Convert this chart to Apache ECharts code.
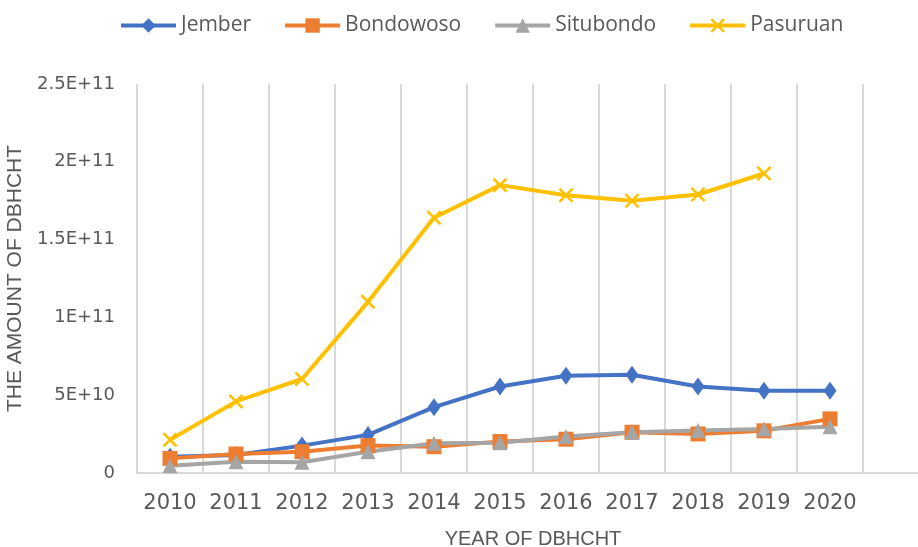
<!DOCTYPE html>
<html>
<head>
<meta charset="utf-8">
<script src="https://cdn.jsdelivr.net/npm/echarts@6/dist/echarts.min.js"></script>
<style>
html,body{margin:0;padding:0;background:#fff;}
#chart{width:918px;height:547px;}
</style>
</head>
<body>
<div id="chart"></div>
<script>
const categories = ['2010','2011','2012','2013','2014','2015','2016','2017','2018','2019','2020',''];
const jember    = [1.05e10, 1.16e10, 1.76e10, 2.45e10, 4.23e10, 5.56e10, 6.25e10, 6.31e10, 5.56e10, 5.28e10, 5.28e10];
const bondowoso = [0.94e10, 1.22e10, 1.37e10, 1.76e10, 1.69e10, 2.02e10, 2.17e10, 2.62e10, 2.51e10, 2.71e10, 3.48e10];
const situbondo = [0.47e10, 0.73e10, 0.69e10, 1.37e10, 1.91e10, 1.95e10, 2.34e10, 2.62e10, 2.73e10, 2.82e10, 2.98e10];
const pasuruan  = [2.13e10, 4.60e10, 6.04e10, 11.0e10, 16.4e10, 18.5e10, 17.85e10, 17.5e10, 17.9e10, 19.25e10];
const yTickLabels = ['0','5E+10','1E+11','1.5E+11','2E+11','2.5E+11'];
const yStep = 5e10;

const xPath = 'path://M0,1.2 L1.2,0 L5,3.8 L8.8,0 L10,1.2 L6.2,5 L10,8.8 L8.8,10 L5,6.2 L1.2,10 L0,8.8 L3.8,5 Z';

const chart = echarts.init(document.getElementById('chart'));
const txt = '#595959';
function mk(name, data, color, symbol, size) {
  return {
    name: name, type: 'line', data: data,
    symbol: symbol, symbolSize: size, showSymbol: true,
    lineStyle: {color: color, width: 4},
    itemStyle: {color: color},
    emphasis: {disabled: true},
    z: 3
  };
}
chart.setOption({
  animation: false,
  backgroundColor: '#fff',
  textStyle: {fontFamily: 'Liberation Sans', color: txt},
  legend: {
    left: 119, top: 15, padding: 0,
    itemWidth: 55, itemHeight: 18, itemGap: 32,
    lineStyle: {width: 4},
    textStyle: {fontSize: 21, color: txt, fontFamily: 'Open Sans'},
    data: ['Jember','Bondowoso','Situbondo','Pasuruan']
  },
  grid: {left: 137, right: -11, top: 84, bottom: 74, containLabel: false, outerBoundsMode: 'none'},
  xAxis: {
    type: 'category', data: categories, boundaryGap: true,
    name: 'YEAR OF DBHCHT', nameLocation: 'middle', nameGap: 56,
    nameTextStyle: {fontSize: 20, color: txt, fontFamily: 'Liberation Sans'},
    axisLine: {lineStyle: {color: '#d9d9d9', width: 2}},
    axisTick: {show: false},
    axisLabel: {fontSize: 21, color: txt, fontFamily: 'DejaVu Sans', margin: 20, interval: 0},
    splitLine: {show: true, interval: 0, lineStyle: {color: '#d9d9d9', width: 2}}
  },
  yAxis: {
    type: 'value', min: 0, max: yStep * (yTickLabels.length - 1), interval: yStep,
    name: 'THE AMOUNT OF DBHCHT', nameLocation: 'middle', nameGap: 98, nameRotate: 90,
    nameTextStyle: {fontSize: 21, color: txt, fontFamily: 'Liberation Sans'},
    axisLine: {show: false}, axisTick: {show: false},
    splitLine: {show: false},
    axisLabel: {
      fontSize: 18, color: txt, fontFamily: 'DejaVu Sans', margin: 22,
      formatter: function (v) { return yTickLabels[Math.round(v / yStep)]; }
    }
  },
  series: [
    mk('Jember', jember, '#4472C4', 'diamond', [13, 18]),
    mk('Bondowoso', bondowoso, '#ED7D31', 'rect', 15),
    mk('Situbondo', situbondo, '#A5A5A5', 'triangle', 15),
    mk('Pasuruan', pasuruan, '#FFC000', xPath, 15)
  ]
});
</script>
</body>
</html>
